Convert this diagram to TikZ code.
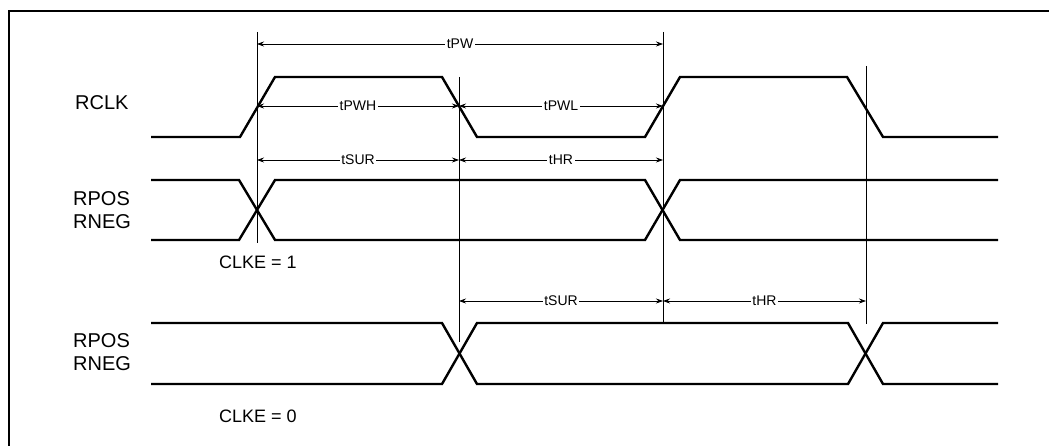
\documentclass[tikz,border=0pt]{standalone}
\usepackage{fontspec}
\setmainfont{Liberation Sans}
\usetikzlibrary{arrows.meta}
\tikzstyle{sig} = [line width=2.4pt]
\tikzstyle{guide} = [line width=0.9pt]
\tikzstyle{dimline} = [line width=0.7pt, {Stealth[length=7pt,width=5pt]}-{Stealth[length=7pt,width=5pt]}]
\tikzstyle{lbl} = [fill=white, inner sep=1.5pt, font=\fontsize{14}{16}\selectfont]
\tikzstyle{signame} = [anchor=west, inner sep=0pt, align=left, font=\fontsize{20}{23}\selectfont]
\tikzstyle{mode} = [anchor=west, inner sep=0pt, font=\fontsize{18}{20}\selectfont]

\begin{document}
\begin{tikzpicture}[x=1pt, y=-1pt]
\useasboundingbox (0,0) rectangle (1049,446);
% Frame
\draw [line width=2.3pt] (9,446) -- (9,11) -- (1049,11);

% Drawing labels
\node (rclk) [signame] at (75,103) {RCLK};
\node (rdat1) [signame] at (73,210) {RPOS\\RNEG};
\node (rdat0) [signame] at (73,352) {RPOS\\RNEG};
\node (clke1) [mode] at (219,262) {CLKE = 1};
\node (clke0) [mode] at (219,416) {CLKE = 0};

% Drawing signals
\draw [sig] (151,137) -- (240,137) -- (275,77) -- (442,77) -- (477,137) -- (645,137) -- (680,77) -- (847,77) -- (883,137) -- (998,137);
\draw [sig] (151,180) -- (239,180) -- (275,240) -- (645,240) -- (680,180) -- (998,180);
\draw [sig] (151,240) -- (239,240) -- (275,180) -- (645,180) -- (680,240) -- (998,240);
\draw [sig] (151,323) -- (442,323) -- (477,384) -- (848,384) -- (883,323) -- (998,323);
\draw [sig] (151,384) -- (442,384) -- (477,323) -- (848,323) -- (883,384) -- (998,384);

% Guide lines
\coordinate (g1t) at (257,32);  \coordinate (g1b) at (257,243);
\coordinate (g2t) at (459,77);  \coordinate (g2b) at (459,342);
\coordinate (g3t) at (663,32);  \coordinate (g3b) at (663,324);
\coordinate (g4t) at (866,66);  \coordinate (g4b) at (866,324);
\draw [guide] (g1t) -- (g1b);
\draw [guide] (g2t) -- (g2b);
\draw [guide] (g3t) -- (g3b);
\draw [guide] (g4t) -- (g4b);

% Drawing arrows
\coordinate (rpw) at (0,44);
\coordinate (rpwx) at (0,106);
\coordinate (rsu1) at (0,160);
\coordinate (rsu0) at (0,301);
\draw [dimline] (g1t |- rpw) -- node [lbl] {tPW} (g3t |- rpw);
\draw [dimline] (g1t |- rpwx) -- node [lbl] {tPWH} (g2t |- rpwx);
\draw [dimline] (g2t |- rpwx) -- node [lbl] {tPWL} (g3t |- rpwx);
\draw [dimline] (g1t |- rsu1) -- node [lbl] {tSUR} (g2t |- rsu1);
\draw [dimline] (g2t |- rsu1) -- node [lbl] {tHR} (g3t |- rsu1);
\draw [dimline] (g2t |- rsu0) -- node [lbl] {tSUR} (g3t |- rsu0);
\draw [dimline] (g3t |- rsu0) -- node [lbl] {tHR} (g4t |- rsu0);
\end{tikzpicture}
\end{document}
